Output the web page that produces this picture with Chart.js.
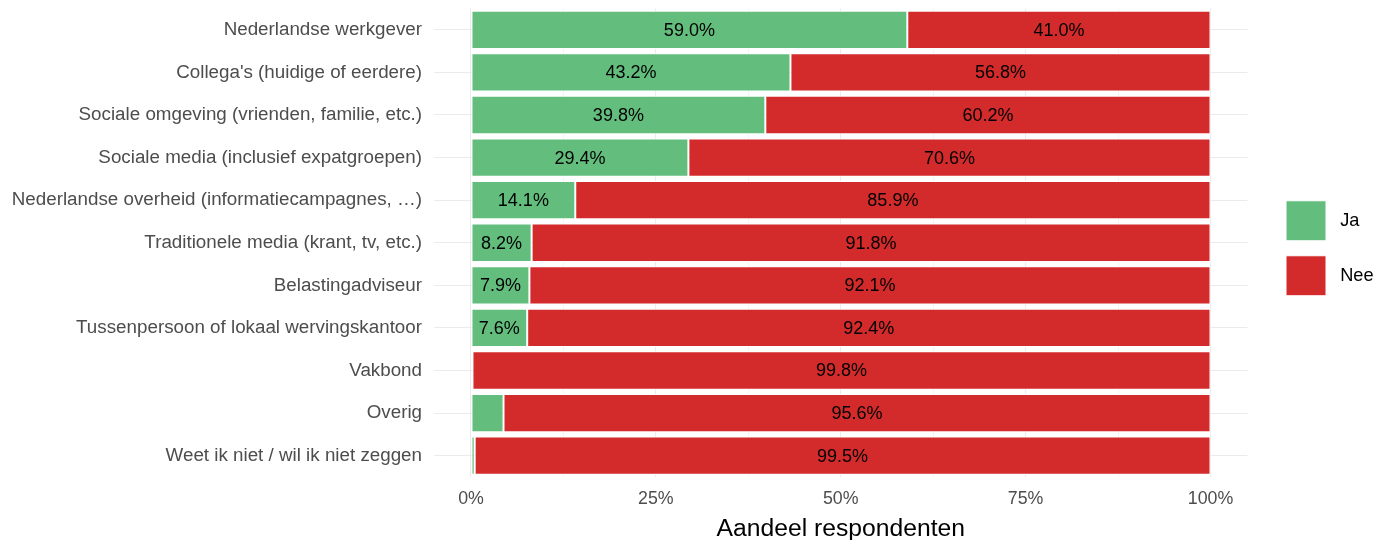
<!DOCTYPE html>
<html>
<head>
<meta charset="utf-8">
<script src="https://cdn.jsdelivr.net/npm/chart.js@4"></script>
<style>
  html, body { margin: 0; padding: 0; background: #fff; }
  #wrap { width: 1389px; height: 540px; }
</style>
</head>
<body>
<div id="wrap"><canvas id="myChart"></canvas></div>
<script>
var categorieen = [
  'Nederlandse werkgever',
  "Collega's (huidige of eerdere)",
  'Sociale omgeving (vrienden, familie, etc.)',
  'Sociale media (inclusief expatgroepen)',
  'Nederlandse overheid (informatiecampagnes, …)',
  'Traditionele media (krant, tv, etc.)',
  'Belastingadviseur',
  'Tussenpersoon of lokaal wervingskantoor',
  'Vakbond',
  'Overig',
  'Weet ik niet / wil ik niet zeggen'
]
var ja = [59.0, 43.2, 39.8, 29.4, 14.1, 8.2, 7.9, 7.6, 0.2, 4.4, 0.5]
var nee = [41.0, 56.8, 60.2, 70.6, 85.9, 91.8, 92.1, 92.4, 99.8, 95.6, 99.5]
var xTicks = [0, 12.5, 25, 37.5, 50, 62.5, 75, 87.5, 100]

var groen = '#63BE7E'
var rood = '#D32B2B'
var font = '"Liberation Sans", Arial, sans-serif'

// percentages inside the bars (only when the piece is wide enough)
const labelPlugin = {
  id: 'barLabels',
  afterLayout(chart) {
    // push the legend a bit to the right and up, like ggplot places it
    const lg = chart.legend
    const dx = 1271 - lg.left
    lg.left += dx
    lg.right += dx
    lg.top -= 26
    lg.bottom -= 26
  },
  afterDatasetsDraw(chart) {
    const ctx = chart.ctx
    ctx.save()
    ctx.font = '18px ' + font
    ctx.fillStyle = '#000'
    ctx.textAlign = 'center'
    ctx.textBaseline = 'middle'
    chart.data.datasets.forEach((ds, i) => {
      const meta = chart.getDatasetMeta(i)
      meta.data.forEach((bar, j) => {
        const v = ds.data[j]
        if (v < 5) return
        const x = (bar.x + bar.base) / 2
        ctx.fillText(v.toFixed(1) + '%', x, bar.y + 1)
      })
    })
    ctx.restore()
  }
}

const ctx = document.getElementById('myChart')

new Chart(ctx, {
  type: 'bar',
  data: {
    labels: categorieen,
    datasets: [
      {
        label: 'Ja',
        data: ja,
        backgroundColor: groen,
        borderColor: '#fff',
        borderWidth: 1,
        borderSkipped: false,
        barPercentage: 0.9,
        categoryPercentage: 1
      },
      {
        label: 'Nee',
        data: nee,
        backgroundColor: rood,
        borderColor: '#fff',
        borderWidth: 1,
        borderSkipped: false,
        barPercentage: 0.9,
        categoryPercentage: 1
      }
    ]
  },
  options: {
    indexAxis: 'y',
    responsive: true,
    maintainAspectRatio: false,
    animation: false,
    layout: { padding: { top: 8.5, right: 29, left: 0, bottom: 0 } },
    scales: {
      x: {
        stacked: true,
        min: -5,
        max: 105,
        afterBuildTicks: (scale) => {
          scale.ticks = xTicks.map(v => ({ value: v }))
        },
        afterFit: (scale) => {
          scale.paddingLeft = 0
          scale.paddingRight = 0
        },
        ticks: {
          autoSkip: false,
          maxRotation: 0,
          color: '#4D4D4D',
          padding: 11,
          font: { family: font, size: 17.8 },
          callback: (v) => (v % 25 === 0 ? v + '%' : '')
        },
        grid: {
          drawTicks: false,
          color: (c) => (c.tick && c.tick.value % 25 === 0 ? '#EBEBEB' : '#F3F3F3'),
          lineWidth: 1
        },
        border: { display: false },
        title: {
          display: true,
          text: 'Aandeel respondenten',
          color: '#000',
          padding: { top: -6, bottom: -4 },
          font: { family: font, size: 24.7 }
        }
      },
      y: {
        stacked: true,
        afterFit: (scale) => {
          scale.width = 434
          scale.paddingTop = 0
          scale.paddingBottom = 0
        },
        ticks: {
          color: '#4D4D4D',
          padding: 12,
          font: { family: font, size: 18.8 }
        },
        grid: {
          offset: false,
          drawTicks: false,
          color: '#EBEBEB',
          lineWidth: 1
        },
        border: { display: false }
      }
    },
    plugins: {
      legend: {
        position: 'right',
        labels: {
          boxWidth: 40,
          boxHeight: 40,
          padding: 15,
          color: '#000',
          font: { family: font, size: 18.2 },
          generateLabels: (chart) => {
            const items = Chart.defaults.plugins.legend.labels.generateLabels(chart)
            items.forEach(it => { it.text = ' ' + it.text })
            return items
          }
        }
      },
      tooltip: { enabled: false }
    }
  },
  plugins: [labelPlugin]
})
</script>
</body>
</html>
